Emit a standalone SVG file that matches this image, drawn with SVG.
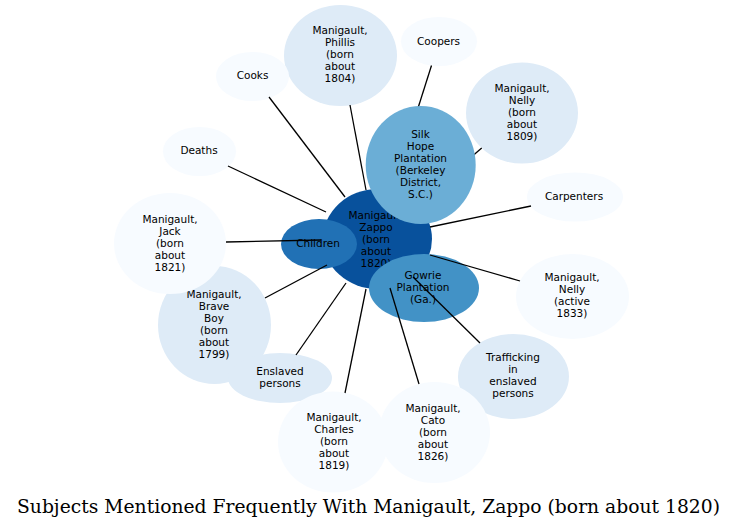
<svg xmlns="http://www.w3.org/2000/svg" width="743" height="529" viewBox="0 0 743 529">
<style>
text{font-family:"DejaVu Sans",sans-serif;font-size:10.5px;fill:#000;text-anchor:middle}
.c0{fill:#08519c}.c1{fill:#2171b5}.c2{fill:#4292c6}.c3{fill:#6baed6}.c4{fill:#deebf7}.c5{fill:#f7fbff}
#edges line{stroke:#000;stroke-width:1.3}
.title{font-family:"DejaVu Serif",serif;font-size:18px}
</style>
<rect width="743" height="529" fill="#fff"/>
<g id="n-zappo"><ellipse class="c0" cx="377.5" cy="239" rx="54.5" ry="50"/>
<text x="376" y="218.5">Manigault,</text><text x="376" y="230.5">Zappo</text><text x="376" y="242.5">(born</text><text x="376" y="254.5">about</text><text x="376" y="266.5">1820)</text></g>
<g id="n-children"><ellipse class="c1" cx="319" cy="244" rx="38" ry="25"/><text x="318" y="247">Children</text></g>
<g id="n-gowrie"><ellipse class="c2" cx="424" cy="288" rx="55" ry="34"/>
<text x="423" y="279">Gowrie</text><text x="423" y="291">Plantation</text><text x="423" y="303">(Ga.)</text></g>
<g id="n-phillis"><ellipse class="c4" cx="340.5" cy="55.5" rx="56.5" ry="50.5"/>
<text x="340" y="34">Manigault,</text><text x="340" y="46">Phillis</text><text x="340" y="58">(born</text><text x="340" y="70">about</text><text x="340" y="82">1804)</text></g>
<g id="n-cooks"><ellipse class="c5" cx="252.5" cy="76.5" rx="36.5" ry="24.5"/><text x="252.5" y="79">Cooks</text></g>
<g id="n-deaths"><ellipse class="c5" cx="199.5" cy="151.5" rx="36.5" ry="24.5"/><text x="199" y="154">Deaths</text></g>
<g id="n-coopers"><ellipse class="c5" cx="439" cy="41.5" rx="38" ry="24.5"/><text x="438.5" y="44.5">Coopers</text></g>
<g id="n-nelly1809"><ellipse class="c4" cx="522" cy="113" rx="56" ry="50.5"/>
<text x="522" y="91.5">Manigault,</text><text x="522" y="103.5">Nelly</text><text x="522" y="115.5">(born</text><text x="522" y="127.5">about</text><text x="522" y="139.5">1809)</text></g>
<g id="n-carpenters"><ellipse class="c5" cx="575" cy="197" rx="48" ry="24.5"/><text x="574" y="200">Carpenters</text></g>
<g id="n-braveboy"><ellipse class="c4" cx="214.5" cy="325" rx="56.5" ry="59"/>
<text x="214" y="298">Manigault,</text><text x="214" y="310">Brave</text><text x="214" y="322">Boy</text><text x="214" y="334">(born</text><text x="214" y="346">about</text><text x="214" y="358">1799)</text></g>
<g id="n-jack"><ellipse class="c5" cx="170" cy="243.5" rx="56" ry="50.5"/>
<text x="170" y="222.5">Manigault,</text><text x="170" y="234.5">Jack</text><text x="170" y="246.5">(born</text><text x="170" y="258.5">about</text><text x="170" y="270.5">1821)</text></g>
<g id="n-enslaved"><ellipse class="c4" cx="280" cy="378" rx="52" ry="25"/>
<text x="280" y="374.5">Enslaved</text><text x="280" y="386.5">persons</text></g>
<g id="n-nelly1833"><ellipse class="c5" cx="572.5" cy="296.5" rx="56.5" ry="42.5"/>
<text x="572" y="281">Manigault,</text><text x="572" y="293">Nelly</text><text x="572" y="305">(active</text><text x="572" y="317">1833)</text></g>
<g id="n-trafficking"><ellipse class="c4" cx="513.5" cy="376.5" rx="55.5" ry="42.5"/>
<text x="513" y="361">Trafficking</text><text x="513" y="373">in</text><text x="513" y="385">enslaved</text><text x="513" y="397">persons</text></g>
<g id="n-charles"><ellipse class="c5" cx="333" cy="442" rx="55" ry="50.5"/>
<text x="334" y="421">Manigault,</text><text x="334" y="433">Charles</text><text x="334" y="445">(born</text><text x="334" y="457">about</text><text x="334" y="469">1819)</text></g>
<g id="n-cato"><ellipse class="c5" cx="434.5" cy="432.5" rx="55.5" ry="50.5"/>
<text x="433" y="411.5">Manigault,</text><text x="433" y="423.5">Cato</text><text x="433" y="435.5">(born</text><text x="433" y="447.5">about</text><text x="433" y="459.5">1826)</text></g>
<g id="edges">
<line x1="366" y1="190" x2="350" y2="105"/>
<line x1="345" y1="197" x2="269" y2="97"/>
<line x1="326" y1="212" x2="228" y2="166"/>
<line x1="392" y1="190" x2="431.5" y2="65.5"/>
<line x1="416.6" y1="204.6" x2="481.7" y2="148"/>
<line x1="430" y1="227" x2="531" y2="206"/>
<line x1="430" y1="255" x2="520" y2="281"/>
<line x1="413" y1="277" x2="480" y2="343"/>
<line x1="390" y1="288" x2="419" y2="384"/>
<line x1="366" y1="289" x2="345" y2="393"/>
<line x1="346" y1="283" x2="296" y2="355"/>
<line x1="327" y1="265" x2="265" y2="298"/>
<line x1="321" y1="240" x2="226" y2="242"/>
</g>
<g id="n-silkhope"><ellipse class="c3" cx="420.7" cy="165" rx="55" ry="59"/>
<text x="420.5" y="137.5">Silk</text><text x="420.5" y="149.5">Hope</text><text x="420.5" y="161.5">Plantation</text><text x="420.5" y="173.5">(Berkeley</text><text x="420.5" y="185.5">District,</text><text x="420.5" y="197.5">S.C.)</text></g>
<text class="title" x="368.5" y="513" textLength="703" lengthAdjust="spacingAndGlyphs">Subjects Mentioned Frequently With Manigault, Zappo (born about 1820)</text>
</svg>
